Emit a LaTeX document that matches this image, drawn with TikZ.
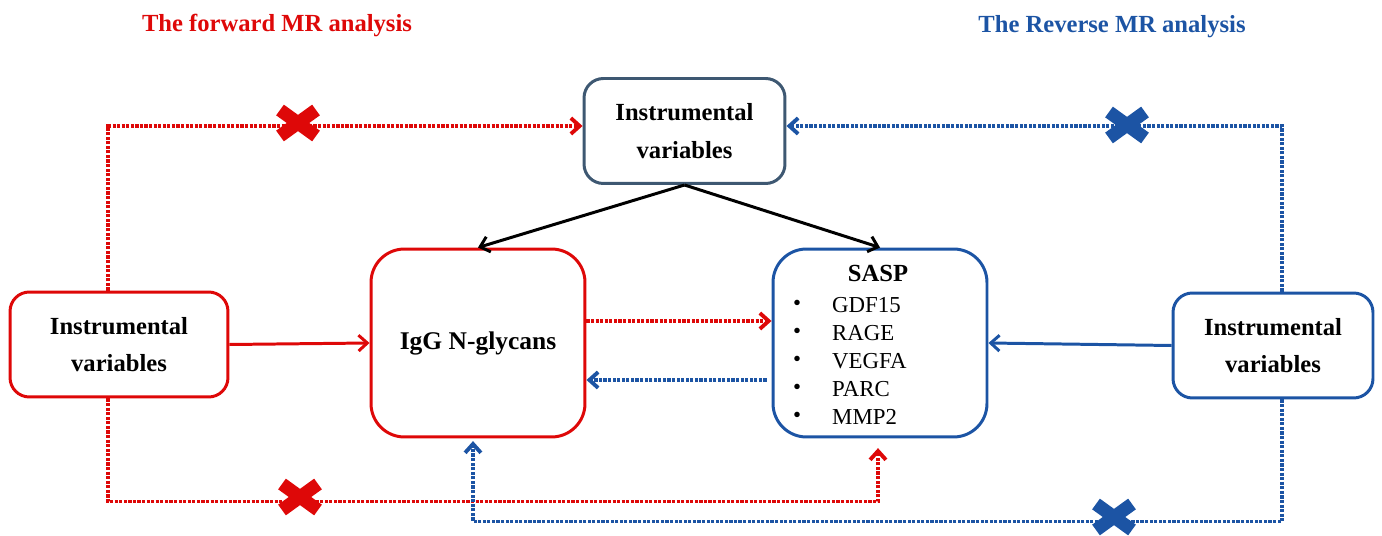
\documentclass[tikz,border=0pt]{standalone}
\usepackage{fontspec}
\setmainfont{Liberation Serif}
\usetikzlibrary{arrows.meta,calc}
\definecolor{fwdred}{RGB}{222,8,8}
\definecolor{revblue}{RGB}{28,84,164}
\definecolor{slate}{RGB}{62,88,114}
\begin{document}
\begin{tikzpicture}[x=0.02cm,y=-0.02cm,font=\fontsize{14}{21.5}\selectfont\bfseries,
  box/.style={draw,line width=1.7pt,align=center,inner sep=0pt,text=black},
  ivbox/.style={box,minimum width=4.1cm,minimum height=2.1cm,rounded corners=11pt},
  bigbox/.style={box,minimum width=4.28cm,minimum height=3.76cm,rounded corners=19pt},
  arr/.style={line width=1.7pt,-{Straight Barb[length=5pt,width=9pt]}},
  dotted arr/.style={arr,line width=2.2pt,dash pattern=on 1.8pt off 0.8pt}]
  \useasboundingbox (0,0) rectangle (1382,536);

  % headings
  \node[text=fwdred] (fwdtitle) at (277,26) {The forward MR analysis};
  \node[text=revblue] (revtitle) at (1112,27) {The Reverse MR analysis};

  % boxes
  \node[ivbox,draw=slate,minimum width=4.02cm] (top) at (684.5,131) {Instrumental\\variables};
  \node[ivbox,draw=fwdred,minimum width=4.36cm] (left) at (119,344.5) {Instrumental\\variables};
  \node[ivbox,draw=revblue,minimum width=4cm] (right) at (1273,345.5) {Instrumental\\variables};
  \node[bigbox,draw=fwdred,font=\fontsize{14.5}{17}\selectfont\bfseries] (igg) at (478,343) {IgG N-glycans};
  \node[bigbox,draw=revblue] (sasp) at (880,343) {};

  % SASP list
  \node (sasptitle) at (878,273) {SASP};
  \foreach \g [count=\i from 0] in {GDF15,RAGE,VEGFA,PARC,MMP2}{
    \node[font=\normalfont\fontsize{13}{15}\selectfont] (dot\i) at (797,305+28*\i) {\textbullet};
    \node[font=\normalfont\fontsize{13}{15}\selectfont,anchor=west] (item\i) at (826,305+28*\i) {\g};}

  % direct paths
  \draw[arr] (top.south) -- (igg.north);
  \draw[arr] (top.south) -- (sasp.north);
  \draw[arr,fwdred] (left.east) -- (igg.west);
  \draw[arr,revblue] (right.west) -- (sasp.east);
  \draw[dotted arr,fwdred] ($(igg.east)+(0,-22)$) -- ($(sasp.west)+(0,-22)$);
  \draw[dotted arr,revblue] ($(sasp.west)+(-5,37)$) -- ($(igg.east)+(0,37)$);

  % pleiotropic paths
  \draw[dotted arr,fwdred] ($(left.north)+(-11,0)$) |- ($(top.west)+(0,-5)$);
  \draw[dotted arr,revblue] ($(right.north)+(9,0)$) |- ($(top.east)+(0,-5)$);
  \draw[dotted arr,fwdred,shorten >=5.5pt] ($(left.south)+(-11,0)$) -- ++(0,103) -| ($(sasp.south)+(-2,0)$);
  \draw[dotted arr,revblue,shorten >=1.5pt] ($(right.south)+(9,0)$) -- ++(0,122) -| ($(igg.south)+(-5,0)$);

  % crossed-out paths
  \foreach \cx/\cy/\c in {298/123/fwdred,300/497/fwdred,1127/125/revblue,1114/517/revblue}{
    \draw[\c,line width=7.5pt] (\cx-18,\cy-13) -- (\cx+18,\cy+13) (\cx-18,\cy+13) -- (\cx+18,\cy-13);}
\end{tikzpicture}
\end{document}
